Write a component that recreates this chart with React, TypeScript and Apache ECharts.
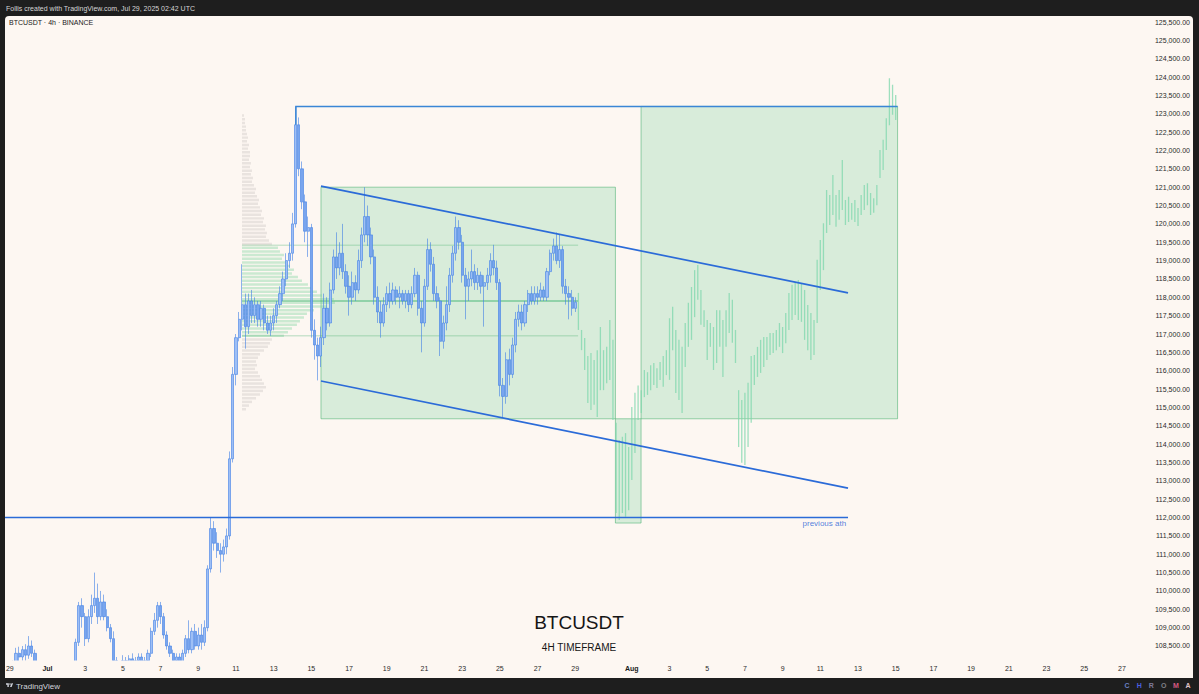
import React, { useEffect, useRef } from "react";
import * as echarts from "echarts";

// ---------------- data ----------------
// x values are days counted from Jul 1 2025 00:00 UTC
const FIRST_BAR_DAY = -2; // Jun 29 00:00 UTC
const BAR_DAYS = 4 / 24; // 4h candles

// candles: [open, close, low, high]
const candlesJun29Jul5 = [
  [107350, 107600, 107250, 107700], [107600, 108000, 107500, 108100], [108000, 108300, 107900, 108450],
  [108300, 108200, 108050, 108480], [108200, 108400, 108100, 108500], [108400, 108250, 108100, 108550],
  [108250, 108500, 108150, 108770], [108500, 108300, 108200, 108650], [108300, 107800, 107600, 108400],
  [107800, 107500, 107200, 107900], [107500, 107200, 106900, 107700], [107200, 107100, 106800, 107400],
  [107100, 106800, 106600, 107400], [106800, 106300, 106100, 107000], [106300, 105800, 105500, 106500],
  [105800, 105500, 105300, 106000], [105500, 105900, 105300, 106100], [105900, 105700, 105500, 106100],
  [105700, 106200, 105600, 106400], [106200, 107000, 106000, 107200], [107000, 107700, 106900, 107900],
  [107700, 108600, 107600, 108700], [108600, 109600, 108500, 109700], [109600, 109300, 109000, 109800],
  [109300, 108700, 108500, 109400], [108700, 109300, 108600, 109500], [109300, 109600, 109100, 109900],
  [109600, 109800, 109400, 110500], [109800, 109300, 109100, 110200], [109300, 109700, 109200, 110000],
  [109700, 109300, 109200, 109900], [109300, 109000, 108900, 109500], [109000, 108700, 108600, 109100],
  [108700, 108100, 108000, 108900], [108100, 107700, 107500, 108200], [107700, 107900, 107400, 108000],
  [107900, 108100, 107800, 108250], [108100, 108000, 107900, 108200], [108000, 108150, 107900, 108250],
  [108150, 108000, 107950, 108300], [108000, 108100, 107900, 108200], [108100, 108200, 108000, 108300],
];
const candlesJul6Jul12 = [
  [108200, 108000, 107800, 108300], [108000, 108100, 107900, 108200], [108100, 108300, 108000, 108400],
  [108300, 108900, 108200, 109000], [108900, 109200, 108800, 109400], [109200, 109600, 109000, 109700],
  [109600, 109300, 109100, 109700], [109300, 108800, 108700, 109400], [108800, 108500, 108400, 108900],
  [108500, 108300, 108200, 108600], [108300, 108100, 107900, 108400], [108100, 108200, 107800, 108300],
  [108200, 108000, 107900, 108300], [108000, 108300, 107900, 108400], [108300, 108700, 108200, 108800],
  [108700, 108400, 108300, 109200], [108400, 108900, 108300, 109000], [108900, 108500, 108400, 109100],
  [108500, 108800, 108400, 109000], [108800, 108600, 108400, 109100], [108600, 109000, 108500, 109200],
  [109000, 110600, 108900, 110700], [110600, 111700, 110500, 111990], [111700, 111300, 111100, 111900],
  [111300, 111100, 110900, 111600], [111100, 111000, 110500, 111300], [111000, 111200, 110800, 111400],
  [111200, 111500, 111000, 111700], [111500, 113600, 111400, 113800], [113600, 115900, 113500, 116100],
  [115900, 116900, 115600, 117000], [116900, 117400, 116800, 117600], [117400, 117800, 117100, 118900],
  [117800, 117200, 116600, 118100], [117200, 117900, 117000, 118100], [117900, 117500, 117300, 118200],
  [117500, 117800, 117300, 118000], [117800, 117400, 117200, 117900], [117400, 117700, 117200, 117900],
  [117700, 117300, 117100, 117800], [117300, 117100, 117000, 117500], [117100, 117300, 116950, 117500],
];
const candlesJul13Jul19 = [
  [117300, 117500, 117100, 117700], [117500, 117800, 117300, 117900], [117800, 118100, 117700, 118300],
  [118100, 118500, 117900, 118700], [118500, 119000, 118300, 119200], [119000, 119200, 118800, 119500],
  [119200, 120000, 119000, 120300], [120000, 122700, 119900, 123218], [122700, 121500, 121300, 122900],
  [121500, 120600, 120400, 121700], [120600, 119800, 119500, 120800], [119800, 119900, 119100, 120200],
  [119900, 117100, 116900, 120000], [117100, 116700, 116300, 117400], [116700, 116400, 115736, 116900],
  [116400, 116900, 116100, 117200], [116900, 117700, 116700, 118100], [117700, 117300, 117100, 118000],
  [117300, 118200, 117200, 118400], [118200, 119100, 118100, 119300], [119100, 118800, 118500, 119770],
  [118800, 119200, 118600, 119500], [119200, 118700, 118500, 120000], [118700, 118300, 118100, 118900],
  [118300, 118000, 117500, 118600], [118000, 118400, 117800, 118700], [118400, 118200, 117900, 118600],
  [118200, 119000, 118100, 119300], [119000, 119700, 118800, 119900], [119700, 120200, 119500, 120998],
  [120200, 119700, 119400, 120500], [119700, 119100, 118900, 119900], [119100, 118000, 117800, 119300],
  [118000, 117600, 117300, 118300], [117600, 117300, 116900, 117900], [117300, 117800, 117200, 118000],
  [117800, 118100, 117600, 118300], [118100, 117900, 117700, 118400], [117900, 118200, 117800, 118400],
  [118200, 118000, 117800, 118300], [118000, 118100, 117700, 118300], [118100, 117900, 117800, 118200],
];
const candlesJul20Jul26 = [
  [117900, 118100, 117700, 118200], [118100, 117800, 117600, 118200], [117800, 118100, 117700, 118300],
  [118100, 118600, 118000, 118800], [118600, 117700, 117500, 118700], [117700, 117300, 116500, 117900],
  [117300, 118300, 117200, 118500], [118300, 119300, 118200, 119600], [119300, 118900, 118700, 119500],
  [118900, 118100, 117900, 119100], [118100, 117900, 117700, 118300], [117900, 116800, 116400, 118000],
  [116800, 117300, 116600, 117500], [117300, 117800, 117100, 118300], [117800, 118600, 117600, 118800],
  [118600, 119200, 118400, 119400], [119200, 119900, 119000, 120200], [119900, 119500, 119300, 120100],
  [119500, 118600, 118400, 119700], [118600, 118300, 117400, 118800], [118300, 118500, 117900, 118700],
  [118500, 118700, 118300, 119300], [118700, 118400, 118200, 118900], [118400, 118600, 118200, 118800],
  [118600, 118300, 118100, 118700], [118300, 118400, 117200, 118600], [118400, 118600, 118200, 118800],
  [118600, 119000, 118400, 119200], [119000, 118800, 118600, 119430], [118800, 118400, 118200, 119000],
  [118400, 115600, 115300, 118500], [115600, 115300, 114723, 115800], [115300, 116300, 115100, 116500],
  [116300, 115900, 115600, 116600], [115900, 116700, 115800, 116900], [116700, 117400, 116500, 117600],
  [117400, 117600, 117200, 117800], [117600, 117300, 117100, 117800], [117300, 117800, 117200, 117900],
  [117800, 118100, 117600, 118200], [118100, 117900, 117800, 118300], [117900, 118100, 117800, 118300],
];
const candlesJul27Jul29 = [
  [118100, 118000, 117800, 118300], [118000, 118200, 117900, 118400], [118200, 118000, 117900, 118300],
  [118000, 118700, 117900, 118800], [118700, 119200, 118600, 119300], [119200, 119400, 119000, 119600],
  [119400, 119000, 118900, 119766], [119000, 119300, 118800, 119700], [119300, 118300, 118100, 119400],
  [118300, 118100, 117800, 118500], [118100, 118000, 117400, 118300], [118000, 117700, 117500, 118200],
  [117700, 117867, 117600, 118000],
];

// projected "ghost" bars after the last candle: [low, high]
const ghostBarsJul29Aug7 = [
  [117110, 118120], [116560, 117110], [116020, 116890], [115120, 116400], [114930, 116480], [115070, 116290],
  [114740, 116560], [115470, 117190], [115470, 116560], [115660, 116650], [115750, 117380], [114660, 116840],
  [112120, 114580], [111930, 114110], [112120, 114200], [112020, 114300], [112200, 113920], [113020, 115010],
  [113760, 115400], [114660, 115600], [114850, 115470], [115280, 116020], [115340, 115960], [115470, 116150],
  [115610, 116210], [115530, 116070], [115750, 116240], [115560, 116400], [115880, 116560], [115750, 117430],
  [116560, 117740], [115390, 117110], [115200, 116840], [114850, 116650], [116100, 117300], [116650, 117850],
  [116840, 118280], [117460, 118740], [117930, 118880], [117250, 118200], [117190, 117650], [116290, 117380],
  [116650, 117300], [116020, 117190], [116210, 117650], [116650, 117650], [115830, 117380], [116650, 117650],
  [117030, 118120], [116760, 117930], [116210, 117110],
];
const ghostBarsAug7Aug15 = [
  [113920, 115470], [113490, 115200], [113430, 115400], [113920, 115670], [114580, 116400], [115610, 116430],
  [115830, 116650], [115940, 116840], [116100, 116920], [116290, 116920], [116430, 117030], [116480, 117030],
  [116560, 117110], [116650, 117300], [116480, 117190], [116750, 117570], [117110, 118120], [117380, 118340],
  [117520, 118420], [117380, 118470], [117330, 118390], [116840, 118200], [116560, 117790], [116290, 117570],
  [116430, 117380], [117300, 119020], [118200, 119560], [118740, 120020], [119750, 120920], [119970, 120790],
  [120240, 121330], [119920, 120790], [120110, 120920], [120380, 121740], [119970, 120650], [120050, 120740],
  [120110, 120570], [120050, 120650], [119940, 120430], [120240, 120790], [120380, 121060], [120510, 121110],
  [120240, 120840], [120300, 120700], [120510, 121060], [121250, 122010], [121470, 122290], [122010, 122880],
  [122690, 123970], [122970, 123790], [122830, 123510],
];

// session volume profile: 100-dollar bins from the top bin down (relative volume)
const PROFILE_TOP_BIN = 122900;
const PROFILE_STEP = 100;
const profileVolumes = [
  2, 3, 3, 4, 4, 5, 6, 5, 7, 6, 8, 8, 7, 9, 8, 10, 9, 11, 10, 12,
  14, 13, 15, 17, 16, 18, 20, 19, 22, 21, 24, 23, 25, 24, 27, 30,
  36, 38, 42, 40, 45, 48, 52, 50, 56, 60, 66, 70, 75, 80, 92, 93, 85, 72, 65, 62, 58, 55, 50, 46, 42,
  30, 28, 26, 22, 18, 16, 14, 15, 13, 16, 18, 20, 22, 24, 21, 18, 14, 10, 7, 4,
];
const PROFILE_START_DAY = 10.32;
const PROFILE_END_DAY = 28.15;
const VALUE_AREA_HIGH = 119420;
const VALUE_AREA_LOW = 116950;
const POC_PRICE = 117900;

// drawings
const channelUpper = [[14.51, 121030], [42.47, 118120]];
const channelLower = [[14.51, 115720], [42.47, 112800]];
const previousAth = [[-2.5, 112000], [42.47, 112000]];
const athLine = [[13.18, 122700], [13.18, 123200], [45.1, 123200]];
// [x1, y1, x2, y2]
const zoneBoxes = [
  [14.51, 121000, 30.13, 114690],
  [31.49, 123200, 45.1, 114690],
  [30.13, 114690, 31.49, 111850],
];
const LAST_PRICE = 117866.89;
const LAST_PRICE_COUNTDOWN = "01:17:03";

// x-axis ticks (days from Jul 1) and their labels
const xTickDays = [-2, 0, 2, 4, 6, 8, 10, 12, 14, 16, 18, 20, 22, 24, 26, 28, 31, 33, 35, 37, 39, 41, 43, 45, 47, 49, 51, 53, 55, 57];
const xTickLabels = ["29", "Jul", "3", "5", "7", "9", "11", "13", "15", "17", "19", "21", "23", "25", "27", "29", "Aug", "3", "5", "7", "9", "11", "13", "15", "17", "19", "21", "23", "25", "27"];

const Y_MIN = 108000;
const Y_MAX = 126000;
const Y_STEP = 500;

// ---------------- chart ----------------
const FONT = "'Liberation Sans', Arial, Helvetica, sans-serif";
const PANEL = "#fdf7f2";
const FRAME = "#1e1e1e";

echarts.graphic.registerShape(
  "tvlogo",
  echarts.graphic.extendPath(
    "M14 22H7V11H0V4h14v18zM28 22h-8l7.5-18h8L28 22zM24 8a4 4 0 1 1-8 0a4 4 0 1 1 8 0z",
    {}
  )
);

function buildOption() {
  const candles = [
    ...candlesJun29Jul5,
    ...candlesJul6Jul12,
    ...candlesJul13Jul19,
    ...candlesJul20Jul26,
    ...candlesJul27Jul29,
  ];
  const candleData = candles.map((c, i) => [FIRST_BAR_DAY + i * BAR_DAYS, c[0], c[1], c[2], c[3]]);
  const ghostStart = FIRST_BAR_DAY + candles.length * BAR_DAYS;
  const ghostData = [...ghostBarsJul29Aug7, ...ghostBarsAug7Aug15].map((g, i) => [
    ghostStart + i * BAR_DAYS,
    g[0],
    g[1],
  ]);
  const profileData = profileVolumes.map((v, i) => [PROFILE_TOP_BIN - i * PROFILE_STEP, v]);
  const DAYS_PER_VOL = 4.93 / 93;

  const fmtPrice = (v: number) =>
    v.toLocaleString("en-US", { minimumFractionDigits: 2, maximumFractionDigits: 2 });

  const blue = "#2b6bd8";

  const lineSeries = (data: number[][], color: string, width: number, z: number) => ({
    type: "line",
    data,
    symbol: "none",
    silent: true,
    clip: true,
    animation: false,
    lineStyle: { color, width },
    z,
  });

  const txt = (x: number, y: number, text: string, fill: string, fontSize: number, align: string, z: number, extra: any = {}) => ({
    type: "text",
    z,
    x,
    y,
    style: {
      text,
      fill,
      fontSize,
      fontFamily: FONT,
      align,
      verticalAlign: "middle",
      textAlign: align,
      textVerticalAlign: "middle",
      ...extra,
    },
  });

  return {
    animation: false,
    backgroundColor: FRAME,
    textStyle: { fontFamily: FONT },
    grid: { left: 6, right: 59, top: 3.65, bottom: 29.65, containLabel: false },
    xAxis: {
      type: "value",
      z: 60,
      min: -2.2,
      max: 57.96,
      axisLine: { show: false },
      axisTick: { show: false },
      splitLine: { show: false },
      axisLabel: {
        customValues: xTickDays,
        margin: 1,
        fontSize: 7,
        color: "#2a2a2a",
        fontFamily: FONT,
        formatter: (v: number) => {
          const i = xTickDays.indexOf(Math.round(v));
          if (i < 0) return "";
          const t = xTickLabels[i];
          return t === "Jul" || t === "Aug" ? "{b|" + t + "}" : t;
        },
        rich: { b: { fontWeight: "bold", fontSize: 7, color: "#1a1a1a", fontFamily: FONT } },
      },
    },
    yAxis: {
      type: "value",
      position: "right",
      min: Y_MIN,
      max: Y_MAX,
      interval: Y_STEP,
      scale: false,
      axisLine: { show: false },
      axisTick: { show: false },
      splitLine: { show: false },
      axisLabel: {
        showMinLabel: false,
        showMaxLabel: false,
        align: "right",
        margin: 50,
        fontSize: 7,
        color: "#2a2a2a",
        fontFamily: FONT,
        formatter: (v: number) => fmtPrice(v),
      },
    },
    series: [
      {
        type: "custom",
        silent: true,
        clip: true,
        z: 1,
        data: zoneBoxes,
        encode: { x: [0, 2], y: [1, 3] },
        renderItem: (_p: any, api: any) => {
          const a = api.coord([api.value(0), api.value(1)]);
          const b = api.coord([api.value(2), api.value(3)]);
          return {
            type: "rect",
            shape: { x: a[0], y: a[1], width: b[0] - a[0], height: b[1] - a[1] },
            style: { fill: "rgba(60, 190, 115, 0.19)", stroke: "rgba(70, 175, 110, 0.55)", lineWidth: 1 },
          };
        },
      },
      {
        type: "custom",
        silent: true,
        clip: true,
        z: 2,
        data: profileData,
        encode: { x: 1, y: 0 },
        renderItem: (_p: any, api: any) => {
          const low = api.value(0);
          const vol = api.value(1);
          const a = api.coord([PROFILE_START_DAY, low + PROFILE_STEP]);
          const b = api.coord([PROFILE_START_DAY + vol * DAYS_PER_VOL, low]);
          const inVA = low + PROFILE_STEP / 2 >= VALUE_AREA_LOW && low + PROFILE_STEP / 2 <= VALUE_AREA_HIGH;
          return {
            type: "rect",
            shape: { x: a[0], y: a[1] + 0.6, width: b[0] - a[0], height: Math.max(0.8, b[1] - a[1] - 1.2) },
            style: { fill: inVA ? "rgba(120, 210, 155, 0.38)" : "rgba(200, 195, 192, 0.38)" },
          };
        },
      },
      lineSeries([[PROFILE_START_DAY, VALUE_AREA_HIGH], [PROFILE_END_DAY, VALUE_AREA_HIGH]], "rgba(90, 185, 125, 0.45)", 1, 3),
      lineSeries([[PROFILE_START_DAY, VALUE_AREA_LOW], [PROFILE_END_DAY, VALUE_AREA_LOW]], "rgba(90, 185, 125, 0.45)", 1, 3),
      lineSeries([[PROFILE_START_DAY, POC_PRICE], [PROFILE_END_DAY, POC_PRICE]], "rgba(60, 180, 110, 0.9)", 1.1, 3),
      {
        type: "custom",
        silent: true,
        clip: true,
        z: 4,
        data: ghostData,
        encode: { x: 0, y: [1, 2] },
        renderItem: (_p: any, api: any) => {
          const x = api.value(0);
          const lo = api.coord([x, api.value(1)]);
          const hi = api.coord([x, api.value(2)]);
          return {
            type: "line",
            shape: { x1: lo[0], y1: lo[1], x2: hi[0], y2: hi[1] },
            style: { stroke: "rgba(125, 215, 172, 0.75)", lineWidth: 1.3 },
          };
        },
      },
      {
        type: "candlestick",
        silent: true,
        clip: true,
        z: 5,
        data: candleData,
        encode: { x: 0, y: [1, 2, 3, 4] },
        barWidth: 2.7,
        itemStyle: {
          color: "#9ebff5",
          color0: "#79a5ee",
          borderColor: "#3f80e6",
          borderColor0: "#3f80e6",
          borderWidth: 0.6,
        },
        markLine: {
          silent: true,
          symbol: ["none", "none"],
          lineStyle: { opacity: 0 },
          data: [{ yAxis: LAST_PRICE }],
          label: {
            position: "end",
            distance: 16,
            offset: [0, 4],
            backgroundColor: PANEL,
            padding: [1, 1, 1, 1],
            formatter: () => "{a|" + fmtPrice(LAST_PRICE) + "}\n{b|" + LAST_PRICE_COUNTDOWN + "}",
            rich: {
              a: { fontSize: 7, color: "#333", lineHeight: 7.5, fontFamily: FONT },
              b: { fontSize: 7, color: "#8a8a8a", lineHeight: 7.5, fontFamily: FONT },
            },
          },
        },
      },
      lineSeries(channelUpper, blue, 1.7, 6),
      lineSeries(channelLower, blue, 1.7, 6),
      lineSeries(previousAth, blue, 1.6, 6),
      lineSeries(athLine, "#3a86d6", 1.6, 6),
      {
        type: "scatter",
        silent: true,
        z: 6,
        symbolSize: 0.1,
        itemStyle: { color: "rgba(0,0,0,0)" },
        data: [[previousAth[1][0] - 0.1, previousAth[1][1]]],
        label: {
          show: true,
          position: "bottom",
          align: "right",
          distance: 2,
          formatter: "previous ath",
          color: "#1f5fd6",
          fontSize: 8,
          fontFamily: FONT,
        },
      },
    ],
    graphic: [
      { type: "rect", z: -10, shape: { x: 5, y: 16, width: 1188, height: 662, r: 4 }, style: { fill: PANEL } },
      // strip under the time scale: hides candle parts below the visible price range
      { type: "rect", z: 50, shape: { x: 5, y: 660.5, width: 1188, height: 17.5 }, style: { fill: PANEL } },
      { type: "rect", z: 100, shape: { x: 0, y: 0, width: 1199, height: 16 }, style: { fill: FRAME } },
      txt(6, 8, "Follis created with TradingView.com, Jul 29, 2025 02:42 UTC", "#d6d6d6", 7, "left", 101),
      txt(9, 22, "BTCUSDT · 4h · BINANCE", "#1a1a1a", 7, "left", 101),
      txt(579, 622, "BTCUSDT", "#151515", 19, "center", 1),
      txt(579, 647, "4H TIMEFRAME", "#151515", 10, "center", 1),
      { type: "rect", z: 100, shape: { x: 0, y: 678, width: 1199, height: 16 }, style: { fill: FRAME } },
      { type: "tvlogo", z: 101, x: 6, y: 682.5, scaleX: 0.2, scaleY: 0.2, style: { fill: "#d1d4dc" } },
      txt(16, 686, "TradingView", "#d1d4dc", 8, "left", 101),
      ...["C", "H", "R", "O", "M", "A"].map((ch, i) =>
        txt(1127 + i * 12.2, 685, ch, ["#6a80c4", "#4b5fe0", "#7d7a9a", "#7f7f85", "#d65a82", "#e2c4ca"][i], 7, "center", 101, { fontWeight: "bold" })
      ),
      { type: "rect", z: 100, shape: { x: 0, y: 0, width: 5, height: 694 }, style: { fill: FRAME } },
      { type: "rect", z: 100, shape: { x: 1193, y: 0, width: 6, height: 694 }, style: { fill: FRAME } },
    ],
  };
}

export default function App() {
  const ref = useRef<HTMLDivElement | null>(null);
  useEffect(() => {
    document.body.style.margin = "0";
    if (!ref.current) return;
    const chart = echarts.init(ref.current, undefined, { renderer: "svg" });
    chart.setOption(buildOption() as any);
    return () => chart.dispose();
  }, []);
  return (
    <div
      ref={ref}
      style={{ position: "fixed", left: 0, top: 0, width: 1199, height: 694 }}
    />
  );
}
